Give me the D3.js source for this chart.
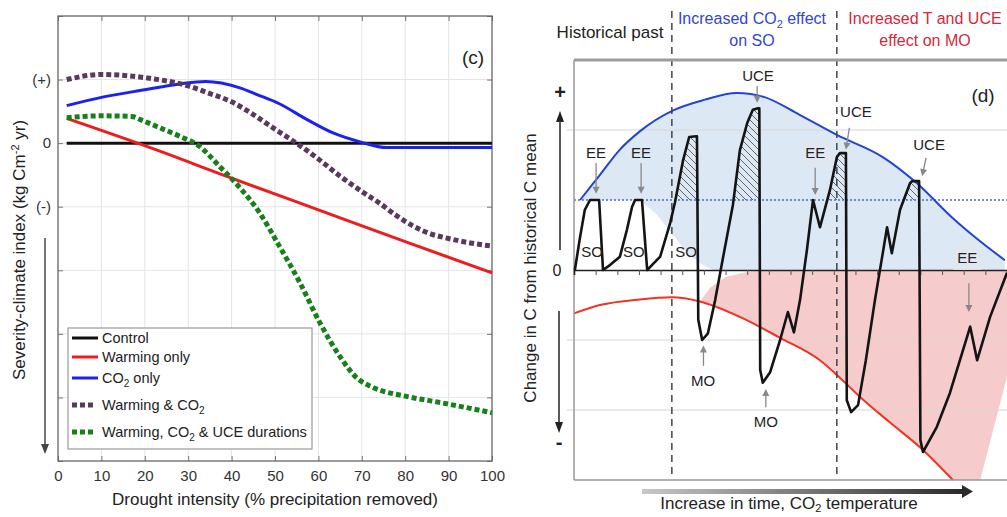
<!DOCTYPE html>
<html>
<head>
<meta charset="utf-8">
<script src="https://cdn.jsdelivr.net/npm/d3@7"></script>
<style>
  body { margin: 0; background: #fff; }
  svg { display: block; font-family: "Liberation Sans", Arial, sans-serif; }
</style>
</head>
<body>
<svg id="fig" width="1007" height="517"></svg>
<script>
// ---- panel (c) data ----
var droughtTicks = [0, 10, 20, 30, 40, 50, 60, 70, 80, 90, 100];
var severityTicks = [2, 1, 0, -1, -2, -3, -4, -5];
var severityLabels = { "1": "(+)", "0": "0", "-1": "(-)" };

var control = [[2, 0], [100, 0]];
var warmingOnly = [[2, 0.39], [20, -0.04], [40, -0.55], [60, -1.05], [80, -1.55], [100, -2.04]];
var co2Only = [[2, 0.59], [10, 0.72], [20, 0.84], [28, 0.93], [34, 0.97], [41.9, 0.87], [46, 0.76],
  [51, 0.62], [57.4, 0.37], [63.4, 0.16], [69.6, 0.02], [75.8, -0.07], [100, -0.07]];
var warmingCo2 = [[2, 1.0], [10, 1.08], [20, 1.03], [30, 0.9], [35, 0.78], [40, 0.65], [45, 0.45],
  [50, 0.22], [56, -0.05], [60, -0.25], [65, -0.52], [70, -0.76], [74, -0.94], [78, -1.14],
  [82, -1.31], [86, -1.43], [90, -1.5], [95, -1.57], [100, -1.62]];
var warmingCo2Uce = [[2, 0.4], [10, 0.43], [17, 0.42], [19, 0.37], [23.5, 0.24], [28, 0.11],
  [32.6, -0.05], [37.3, -0.37], [41.9, -0.7], [46.5, -1.1], [51, -1.62], [55.7, -2.19],
  [60.3, -2.82], [65, -3.36], [68.8, -3.69], [72.5, -3.84], [80, -3.98], [88, -4.08], [100, -4.24]];

var seriesC = [
  { name: [["Control"]], data: control, color: "#111", dotted: false },
  { name: [["Warming only"]], data: warmingOnly, color: "#ee1c1c", dotted: false },
  { name: [["CO"], ["2", "sub"], [" only"]], data: co2Only, color: "#1c22ee", dotted: false },
  { name: [["Warming & CO"], ["2", "sub"]], data: warmingCo2, color: "#5a3a5c", dotted: true },
  { name: [["Warming, CO"], ["2", "sub"], [" & UCE durations"]], data: warmingCo2Uce, color: "#17801a", dotted: true }
];

// ---- panel (d) data (time 0-100, change in C in grid units) ----
var timeTicks = d3.range(5, 100, 5);
var periodBreaks = [22.6, 60.7];
var historicalMean = 1;
var coGrid = [2, -1, -2];

var co2Envelope = [[1.4, 1.0], [6, 1.36], [10.6, 1.72], [15.2, 1.98], [22.9, 2.28], [30, 2.43],
  [37.6, 2.53], [44, 2.47], [52, 2.22], [60.7, 1.93], [71.4, 1.61], [79.2, 1.24], [87.5, 0.74],
  [93, 0.45], [99.5, 0.14]];
var co2Floor = [[99.5, 0], [32, 0], [29, 0.1], [26, 0.25], [22.9, 0.5], [19, 0.8], [15.2, 1.0], [1.4, 1.0]];

var tempEnvelope = [[0, -0.62], [6, -0.5], [15.2, -0.42], [22.6, -0.39], [29.1, -0.45], [38.3, -0.67],
  [47.6, -0.97], [56.8, -1.29], [61.4, -1.54], [66, -1.81], [73, -2.18], [80.6, -2.57], [87.5, -3.0]];
var tempShade = [[29.1, -0.45], [31.5, -0.25], [35, -0.1], [40, -0.03], [44, 0], [100, 0],
  [100, -1.53], [93.8, -3], [87.5, -3]];

var carbon = [[0.2, 0], [1.4, 0.47], [2.5, 0.86], [3.7, 1.0], [5.8, 1.0], [6.7, 0], [8.3, 0.07],
  [10.6, 0.19], [12.2, 0.57], [13.4, 0.9], [14.1, 1.0], [15.7, 1.0], [16.9, 0], [18, 0.07],
  [19.9, 0.19], [22.2, 0.67], [23.3, 0.96], [25.2, 1.57], [26.6, 1.9], [28.2, 1.91], [28.4, 1.91],
  [28.7, -0.71], [29.6, -1.0], [30.9, -0.91], [32.6, -0.43], [34.4, 0.17], [36.7, 0.93],
  [38.3, 1.71], [40.0, 2.1], [41.3, 2.29], [42.5, 2.31], [42.8, 2.31], [43.0, -1.43], [43.6, -1.61],
  [45.3, -1.46], [47.6, -1.0], [49.4, -0.6], [50.8, -0.89], [52.2, -0.43], [53.8, 0.29],
  [55.2, 1.0], [56.8, 0.61], [59.1, 1.14], [60.7, 1.61], [61.4, 1.67], [62.8, 1.67], [63.0, -1.86],
  [64.0, -2.03], [65.6, -1.93], [67.4, -1.29], [69.5, -0.43], [72.3, 0.61], [73.4, 0.24],
  [75.3, 0.86], [77.6, 1.24], [78.1, 1.27], [79.7, 1.27], [80.0, -2.43], [80.6, -2.6], [83.8, -2.24],
  [86.8, -1.76], [91.5, -0.81], [93.1, -1.29], [96.1, -0.67], [100, -0.04]];

// [label, label t, label v, tail t, tail v, tip t, tip v, boxed]
var callouts = [
  ["EE", 5.1, 1.6, 5.1, 1.53, 5.1, 1.09, false],
  ["EE", 15.5, 1.6, 15.5, 1.53, 15.5, 1.09, false],
  ["UCE", 42.5, 2.7, 42.3, 2.63, 42.3, 2.39, false],
  ["EE", 55.7, 1.6, 55.7, 1.46, 55.7, 1.07, true],
  ["UCE", 65.1, 2.19, 63.6, 2.03, 62.8, 1.72, false],
  ["UCE", 82, 1.71, 81.3, 1.6, 80.4, 1.34, false],
  ["EE", 90.8, 0.1, 91.2, -0.19, 91.2, -0.6, true],
  ["MO", 29.8, -1.66, 29.9, -1.37, 29.9, -1.08, false],
  ["MO", 44.3, -2.24, 44.3, -1.96, 44.3, -1.7, false]
];
var soLabels = [4.2, 13.8, 25.9];

var svg = d3.select("#fig");
var defs = svg.append("defs");

function rich(sel, parts, subSize, subShift) {
  var cur = 0;
  parts.forEach(function(p) {
    var shift = p[1] === "sub" ? (subShift || 4) : p[1] === "sup" ? -6 : 0;
    var t = sel.append("tspan").attr("dy", shift - cur).text(p[0]);
    if (p[1]) t.attr("font-size", subSize);
    cur = shift;
  });
}

// =================== panel (c) ===================
var xC = d3.scaleLinear().domain([0, 100]).range([58, 492]);
var yC = d3.scaleLinear().domain([-5, 2]).range([461, 16]);
var gC = svg.append("g");

gC.append("g").selectAll("line").data(droughtTicks.slice(1, -1)).join("line")
  .attr("x1", xC).attr("x2", xC).attr("y1", yC(2)).attr("y2", yC(-5))
  .attr("stroke", "#e4e4e4");
gC.append("g").selectAll("line").data(severityTicks.slice(1, -1)).join("line")
  .attr("x1", xC(0)).attr("x2", xC(100)).attr("y1", yC).attr("y2", yC)
  .attr("stroke", "#e4e4e4");

var axB = gC.append("g").attr("transform", "translate(0," + yC(-5) + ")")
  .call(d3.axisBottom(xC).tickValues(droughtTicks).tickSize(-5).tickPadding(9));
var axT = gC.append("g").attr("transform", "translate(0," + yC(2) + ")")
  .call(d3.axisTop(xC).tickValues(droughtTicks).tickSize(-5).tickFormat(""));
var axL = gC.append("g").attr("transform", "translate(" + xC(0) + ",0)")
  .call(d3.axisLeft(yC).tickValues(severityTicks).tickSize(-5).tickPadding(7)
    .tickFormat(function(d) { return severityLabels[d] || ""; }));
var axR = gC.append("g").attr("transform", "translate(" + xC(100) + ",0)")
  .call(d3.axisRight(yC).tickValues(severityTicks).tickSize(-5).tickFormat(""));
[axB, axT, axL, axR].forEach(function(a) {
  a.select(".domain").remove();
  a.selectAll(".tick line").attr("stroke", "#777");
  a.selectAll("text").attr("font-size", 15).attr("fill", "#333")
    .attr("font-family", "Liberation Sans, Arial, sans-serif");
});
gC.append("rect").attr("x", xC(0)).attr("y", yC(2))
  .attr("width", xC(100) - xC(0)).attr("height", yC(-5) - yC(2))
  .attr("fill", "none").attr("stroke", "#666").attr("stroke-width", 1.3);

var lineC = d3.line().x(function(d) { return xC(d[0]); }).y(function(d) { return yC(d[1]); })
  .curve(d3.curveMonotoneX);
gC.selectAll("path.series").data(seriesC).join("path").attr("class", "series")
  .attr("d", function(d) { return lineC(d.data); })
  .attr("fill", "none").attr("stroke", function(d) { return d.color; })
  .attr("stroke-width", function(d) { return d.dotted ? 5 : 3; })
  .attr("stroke-dasharray", function(d) { return d.dotted ? "5,3" : null; });

gC.append("text").attr("x", 473).attr("y", 64).attr("text-anchor", "middle")
  .attr("font-size", 19).attr("fill", "#222").text("(c)");

// legend
var leg = gC.append("g");
leg.append("rect").attr("x", 68).attr("y", 328).attr("width", 244).attr("height", 121)
  .attr("fill", "#fff").attr("stroke", "#999").attr("stroke-width", 1.2);
var legY = [338, 357, 378, 405, 432];
seriesC.forEach(function(s, i) {
  leg.append("line").attr("x1", 72).attr("x2", s.dotted ? 95 : 98)
    .attr("y1", legY[i]).attr("y2", legY[i])
    .attr("stroke", s.color).attr("stroke-width", s.dotted ? 5 : 3)
    .attr("stroke-dasharray", s.dotted ? "5,3" : null);
  var t = leg.append("text").attr("x", 102).attr("y", legY[i] + 5)
    .attr("font-size", 14.5).attr("fill", "#222");
  rich(t, s.name, 10);
});

// axis titles
var yt = gC.append("text").attr("transform", "translate(25,250) rotate(-90)")
  .attr("text-anchor", "middle").attr("font-size", 17).attr("fill", "#222");
rich(yt, [["Severity-climate index (kg Cm"], ["-2", "sup"], [" yr)"]], 11);
gC.append("line").attr("x1", 45).attr("x2", 45).attr("y1", 238).attr("y2", 446)
  .attr("stroke", "#444").attr("stroke-width", 1.5);
gC.append("path").attr("d", "M41,444 L45,454 L49,444 Z").attr("fill", "#444");
gC.append("text").attr("x", 275).attr("y", 505).attr("text-anchor", "middle")
  .attr("font-size", 17).attr("fill", "#222").text("Drought intensity (% precipitation removed)");

// =================== panel (d) ===================
var xD = d3.scaleLinear().domain([0, 100]).range([574, 1007]);
var yD = d3.scaleLinear().domain([-3, 3]).range([480, 60]);
var gD = svg.append("g");
var lineD = d3.line().x(function(d) { return xD(d[0]); }).y(function(d) { return yD(d[1]); });

// shaded envelopes
gD.append("path").attr("d", lineD(co2Envelope.concat(co2Floor)) + "Z").attr("fill", "#dde8f5");
var tempTail = tempEnvelope.filter(function(d) { return d[0] >= 29.1 && d[0] < 87.5; }).reverse();
gD.append("path").attr("d", lineD(tempShade.concat(tempTail)) + "Z").attr("fill", "#f6cbcb");

// grid
gD.append("g").selectAll("line").data(coGrid).join("line")
  .attr("x1", xD(0) - 7).attr("x2", xD(100)).attr("y1", yD).attr("y2", yD)
  .attr("stroke", "#d6d6d6").attr("stroke-width", 1);
gD.append("line").attr("x1", xD(0)).attr("x2", xD(100)).attr("y1", yD(historicalMean))
  .attr("y2", yD(historicalMean)).attr("stroke", "#4a6ad8").attr("stroke-width", 1.6)
  .attr("stroke-dasharray", "2,2");

// hatching on UCE peaks above historical mean
var hatch = defs.append("pattern").attr("id", "hatch").attr("patternUnits", "userSpaceOnUse")
  .attr("width", 7).attr("height", 7);
hatch.append("path").attr("d", "M-1,-1 L8,8 M-8,-1 L1,8 M6,-1 L15,8")
  .attr("stroke", "#555").attr("stroke-width", 0.9);
defs.append("clipPath").attr("id", "aboveMean").append("rect")
  .attr("x", xD(0)).attr("y", 0).attr("width", 433).attr("height", yD(historicalMean));
gD.append("path").attr("clip-path", "url(#aboveMean)")
  .attr("d", d3.area().x(function(d) { return xD(d[0]); })
    .y0(yD(historicalMean)).y1(function(d) { return yD(d[1]); })(carbon))
  .attr("fill", "url(#hatch)");

// envelopes
gD.append("path").attr("d", lineD.curve(d3.curveMonotoneX)(co2Envelope))
  .attr("fill", "none").attr("stroke", "#2244d4").attr("stroke-width", 2);
gD.append("path").attr("d", lineD(tempEnvelope))
  .attr("fill", "none").attr("stroke", "#ec3522").attr("stroke-width", 2);
lineD.curve(d3.curveLinear);

// period dividers
gD.append("g").selectAll("line").data(periodBreaks).join("line")
  .attr("x1", xD).attr("x2", xD).attr("y1", 11).attr("y2", 476)
  .attr("stroke", "#444").attr("stroke-width", 1.5).attr("stroke-dasharray", "7,5");

// frame
gD.append("line").attr("x1", xD(0)).attr("x2", xD(100)).attr("y1", yD(3)).attr("y2", yD(3))
  .attr("stroke", "#9c9c9c").attr("stroke-width", 3);
gD.append("line").attr("x1", xD(0)).attr("x2", xD(100)).attr("y1", yD(-3)).attr("y2", yD(-3))
  .attr("stroke", "#999").attr("stroke-width", 1.5);
gD.append("line").attr("x1", xD(0)).attr("x2", xD(0)).attr("y1", yD(3)).attr("y2", yD(-3))
  .attr("stroke", "#999").attr("stroke-width", 1.5);
var zeroAx = gD.append("g").attr("transform", "translate(0," + yD(0) + ")")
  .call(d3.axisBottom(xD).tickValues(timeTicks).tickSize(5).tickFormat(""));
zeroAx.select(".domain").attr("stroke", "#222").attr("stroke-width", 1.6);
zeroAx.selectAll(".tick line").attr("stroke", "#555");

// carbon trajectory
gD.append("path").attr("d", lineD(carbon)).attr("fill", "none")
  .attr("stroke", "#141414").attr("stroke-width", 2.6).attr("stroke-linejoin", "round");

// callouts
callouts.forEach(function(c) {
  if (c[7]) {
    gD.append("rect").attr("x", xD(c[1]) - 14).attr("y", yD(c[2]) - 19)
      .attr("width", 28).attr("height", 26).attr("fill", "#e2e6ec").attr("opacity", 0.8);
  }
  gD.append("text").attr("x", xD(c[1])).attr("y", yD(c[2])).attr("text-anchor", "middle")
    .attr("font-size", 15).attr("fill", "#222").text(c[0]);
  var x1 = xD(c[3]), y1 = yD(c[4]), x2 = xD(c[5]), y2 = yD(c[6]);
  var a = Math.atan2(y2 - y1, x2 - x1);
  gD.append("line").attr("x1", x1).attr("y1", y1).attr("x2", x2 - 5 * Math.cos(a)).attr("y2", y2 - 5 * Math.sin(a))
    .attr("stroke", "#888").attr("stroke-width", 1.3);
  var p = [[x2, y2],
    [x2 - 7 * Math.cos(a) + 3.5 * Math.sin(a), y2 - 7 * Math.sin(a) - 3.5 * Math.cos(a)],
    [x2 - 7 * Math.cos(a) - 3.5 * Math.sin(a), y2 - 7 * Math.sin(a) + 3.5 * Math.cos(a)]];
  gD.append("path").attr("d", "M" + p.join("L") + "Z").attr("fill", "#888");
});
gD.selectAll("text.so").data(soLabels).join("text").attr("class", "so")
  .attr("x", xD).attr("y", yD(0.19)).attr("text-anchor", "middle")
  .attr("font-size", 15).attr("fill", "#222").text("SO");

// y-axis signs and arrows
gD.append("text").attr("x", 560).attr("y", yD(2.45)).attr("text-anchor", "middle")
  .attr("font-size", 20).attr("font-weight", "bold").attr("fill", "#222").text("+");
gD.append("text").attr("x", 557).attr("y", yD(0) + 6).attr("text-anchor", "middle")
  .attr("font-size", 16).attr("fill", "#222").text("0");
gD.append("text").attr("x", 559).attr("y", yD(-2.55)).attr("text-anchor", "middle")
  .attr("font-size", 20).attr("font-weight", "bold").attr("fill", "#222").text("-");
gD.append("line").attr("x1", 560).attr("x2", 560).attr("y1", 250).attr("y2", 120)
  .attr("stroke", "#222").attr("stroke-width", 1.5);
gD.append("path").attr("d", "M556,122 L560,111 L564,122 Z").attr("fill", "#222");
gD.append("line").attr("x1", 559).attr("x2", 559).attr("y1", 311).attr("y2", 424)
  .attr("stroke", "#222").attr("stroke-width", 1.5);
gD.append("path").attr("d", "M555,422 L559,433 L563,422 Z").attr("fill", "#222");
gD.append("text").attr("transform", "translate(536,268) rotate(-90)").attr("text-anchor", "middle")
  .attr("font-size", 17).attr("fill", "#222").text("Change in C from historical C mean");

gD.append("text").attr("x", 983).attr("y", 102).attr("text-anchor", "middle")
  .attr("font-size", 19).attr("fill", "#222").text("(d)");

// period headers
gD.append("text").attr("x", 610).attr("y", 38).attr("text-anchor", "middle")
  .attr("font-size", 17).attr("fill", "#222").text("Historical past");
var h1 = gD.append("text").attr("x", 752).attr("y", 24).attr("text-anchor", "middle")
  .attr("font-size", 16).attr("fill", "#3346cc");
rich(h1, [["Increased CO"], ["2", "sub"], [" effect"]], 11);
gD.append("text").attr("x", 752).attr("y", 46).attr("text-anchor", "middle")
  .attr("font-size", 16).attr("fill", "#3346cc").text("on SO");
gD.append("text").attr("x", 925).attr("y", 24).attr("text-anchor", "middle")
  .attr("font-size", 16).attr("fill", "#d4283c").text("Increased T and UCE");
gD.append("text").attr("x", 925).attr("y", 46).attr("text-anchor", "middle")
  .attr("font-size", 16).attr("fill", "#d4283c").text("effect on MO");

// bottom arrow
var grad = defs.append("linearGradient").attr("id", "timeGrad");
grad.append("stop").attr("offset", "0%").attr("stop-color", "#c8c8c8");
grad.append("stop").attr("offset", "100%").attr("stop-color", "#2a2a2a");
gD.append("rect").attr("x", 642).attr("y", 489).attr("width", 322).attr("height", 5)
  .attr("fill", "url(#timeGrad)");
gD.append("path").attr("d", "M962,485 L973,491.5 L962,498 Z").attr("fill", "#2a2a2a");
var bt = gD.append("text").attr("x", 789).attr("y", 509).attr("text-anchor", "middle")
  .attr("font-size", 17).attr("fill", "#222");
rich(bt, [["Increase in time, CO"], ["2", "sub"], [" temperature"]], 11, 3);
</script>
</body>
</html>
